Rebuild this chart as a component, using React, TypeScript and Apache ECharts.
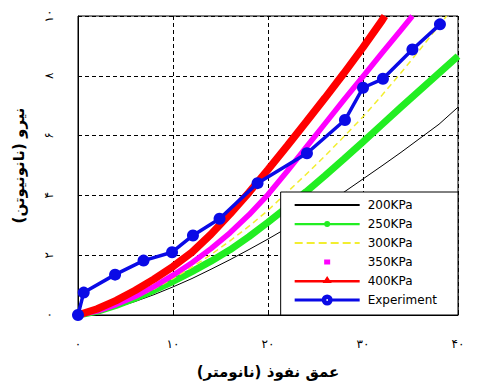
import React, { useEffect, useRef } from "react";
import * as echarts from "echarts";

// ---- data ----
const xTickLabels = ["۰", "۱۰", "۲۰", "۳۰", "۴۰"];
const yTickLabels = ["۰", "۲", "۴", "۶", "۸", "۱۰"];
const xAxisName = "عمق نفوذ (نانومتر)";
const yAxisName = "نیرو (نانونیوتن)";
const seriesNames = ["200KPa", "250KPa", "300KPa", "350KPa", "400KPa", "Experiment"];

const depthFull = [0, 2, 4, 6, 8, 10, 12, 14, 16, 18, 20, 22, 24, 26, 28, 30, 32, 34, 36, 38, 40];
const force200 = [0, 0.09, 0.25, 0.45, 0.68, 0.94, 1.22, 1.53, 1.85, 2.19, 2.54, 2.91, 3.3, 3.7, 4.11, 4.55, 4.99, 5.44, 5.91, 6.38, 6.95];
const force250 = [0, 0.12, 0.32, 0.56, 0.83, 1.12, 1.45, 1.8, 2.18, 2.62, 3.1, 3.6, 4.12, 4.66, 5.22, 5.79, 6.37, 6.95, 7.52, 8.09, 8.66];

const depth300 = [0, 2, 4, 6, 8, 10, 12, 14, 16, 18, 20, 22, 24, 26, 28, 30, 32, 34, 36, 38, 38.8];
const force300 = [0, 0.12, 0.32, 0.57, 0.87, 1.22, 1.6, 2.02, 2.48, 2.97, 3.5, 4.1, 4.7, 5.32, 5.97, 6.63, 7.35, 8.1, 8.88, 9.68, 10];

const depth350 = [0, 2, 4, 6, 8, 10, 12, 14, 16, 18, 20, 22, 24, 26, 28, 30, 32, 34, 35.2];
const force350 = [0, 0.13, 0.35, 0.62, 0.95, 1.33, 1.75, 2.22, 2.75, 3.35, 4.03, 4.8, 5.6, 6.4, 7.2, 7.98, 8.76, 9.53, 10];

const depth400 = [0, 2, 4, 6, 8, 10, 12, 14, 16, 18, 20, 22, 24, 26, 28, 30, 32, 32.3];
const force400 = [0, 0.2, 0.48, 0.82, 1.2, 1.62, 2.1, 2.7, 3.38, 4.1, 4.86, 5.65, 6.45, 7.26, 8.09, 8.95, 9.85, 10];

const depthExp = [0, 0.6, 3.9, 6.9, 9.9, 12.1, 14.9, 18.9, 24.1, 28.1, 30, 32.1, 35.2, 38.1];
const forceExp = [0, 0.75, 1.35, 1.82, 2.1, 2.66, 3.22, 4.41, 5.41, 6.52, 7.6, 7.9, 8.88, 9.72];

const pair = (xs: number[], ys: number[]) => xs.map((x, i) => [x, ys[i]]);

// legend icon paths (68 x 14 box, tiny corner squares fix the bounding box)
const corners = "M0,0h0.01v0.01h-0.01z M67.99,13.99h0.01v0.01h-0.01z ";
const icon200 = "path://" + corners + "M0,6h65v2H0z";
const icon250 =
  "path://" + corners + "M0,6h65v2.2H0z M29.5,7a3,3 0 1,1 6,0a3,3 0 1,1 -6,0z";
const icon300 =
  "path://" + corners +
  "M0,6h8v2H0z M12,6h8v2h-8z M24,6h8v2h-8z M36,6h8v2h-8z M48,6h8v2h-8z M60,6h5v2h-5z";
const icon350 = "path://" + corners + "M29.5,4.5h6v5h-6z";
const icon400 =
  "path://" + corners + "M0,6h65v2.5H0z M32.5,2L37,9L28,9z";
const iconExp =
  "path://" + corners +
  "M0,5.5h65v3H0z M27,7a5.5,5.5 0 1,1 11,0a5.5,5.5 0 1,1 -11,0z " +
  "M31.6,7a0.9,0.9 0 1,0 1.8,0a0.9,0.9 0 1,0 -1.8,0z M31.6,7a0.9,0.9 0 1,0 1.8,0a0.9,0.9 0 1,0 -1.8,0z";
const legendIcons = [icon200, icon250, icon300, icon350, icon400, iconExp];

export default function App() {
  const ref = useRef<HTMLDivElement>(null);
  useEffect(() => {
    if (!ref.current) return;
    const chart = echarts.init(ref.current, null, { renderer: "svg" });
    const persian = "DejaVu Sans";
    chart.setOption({
      animation: false,
      backgroundColor: "#ffffff",
      grid: {
        left: 78,
        right: 22,
        top: 16,
        bottom: 76,
        show: true,
        borderColor: "#000",
        borderWidth: 1,
        backgroundColor: "transparent",
      },
      xAxis: {
        type: "value",
        min: 0,
        max: 40,
        interval: 10,
        name: xAxisName,
        nameLocation: "middle",
        nameGap: 49,
        nameTextStyle: { fontFamily: persian, fontSize: 15, fontWeight: "bold", color: "#000" },
        axisLine: { show: true, lineStyle: { color: "#000", width: 1 } },
        axisTick: { show: true, inside: true, length: 4, lineStyle: { color: "#000" } },
        axisLabel: {
          margin: 23,
          fontFamily: persian,
          fontSize: 12,
          color: "#000",
          formatter: (v: number) => xTickLabels[Math.round(v / 10)] ?? "",
        },
        splitLine: { show: true, lineStyle: { color: "#000", type: [4, 3], width: 1 } },
      },
      yAxis: {
        type: "value",
        min: 0,
        max: 10,
        interval: 2,
        name: yAxisName,
        nameLocation: "middle",
        nameRotate: 90,
        nameGap: 52,
        nameTextStyle: { fontFamily: persian, fontSize: 15, fontWeight: "bold", color: "#000" },
        axisLine: { show: true, lineStyle: { color: "#000", width: 1 } },
        axisTick: { show: true, inside: true, length: 4, lineStyle: { color: "#000" } },
        axisLabel: {
          margin: 23,
          rotate: 90,
          fontFamily: persian,
          fontSize: 12,
          color: "#000",
          formatter: (v: number) => yTickLabels[Math.round(v / 2)] ?? "",
        },
        splitLine: { show: true, lineStyle: { color: "#000", type: [4, 3], width: 1 } },
      },
      legend: {
        orient: "vertical",
        right: 22,
        bottom: 76,
        padding: [6, 21, 8, 14],
        itemWidth: 68,
        itemHeight: 14,
        itemGap: 5,
        backgroundColor: "#fff",
        borderColor: "#000",
        borderWidth: 1,
        borderRadius: 0,
        itemStyle: { borderWidth: 0 },
        textStyle: { fontFamily: "DejaVu Sans", fontSize: 12, color: "#000" },
        data: seriesNames.map((n, i) => ({ name: n, icon: legendIcons[i] })),
      },
      series: [
        {
          name: seriesNames[0],
          type: "line",
          data: pair(depthFull, force200),
          showSymbol: false,
          symbol: "none",
          color: "#000000",
          lineStyle: { color: "#000000", width: 1 },
        },
        {
          name: seriesNames[1],
          type: "line",
          data: pair(depthFull, force250),
          showSymbol: false,
          symbol: "none",
          color: "#22ee22",
          lineStyle: { color: "#22ee22", width: 7 },
        },
        {
          name: seriesNames[2],
          type: "line",
          data: pair(depth300, force300),
          showSymbol: false,
          symbol: "none",
          color: "#f2ee30",
          lineStyle: { color: "#f2ee30", width: 1.5, type: [6, 4] },
        },
        {
          name: seriesNames[3],
          type: "line",
          data: pair(depth350, force350),
          showSymbol: false,
          symbol: "none",
          color: "#ff00ff",
          lineStyle: { color: "#ff00ff", width: 5.5 },
        },
        {
          name: seriesNames[4],
          type: "line",
          data: pair(depth400, force400),
          showSymbol: false,
          symbol: "none",
          color: "#ff0000",
          lineStyle: { color: "#ff0000", width: 7.5 },
        },
        {
          name: seriesNames[5],
          type: "line",
          data: pair(depthExp, forceExp),
          symbol: "circle",
          symbolSize: 12,
          showSymbol: true,
          color: "#0a0ae6",
          itemStyle: { color: "#0a0ae6" },
          lineStyle: { color: "#0a0ae6", width: 3.5 },
        },
      ],
    });
    return () => chart.dispose();
  }, []);
  return (
    <div
      ref={ref}
      style={{ position: "fixed", left: 0, top: 0, width: 480, height: 391, background: "#fff" }}
    />
  );
}
